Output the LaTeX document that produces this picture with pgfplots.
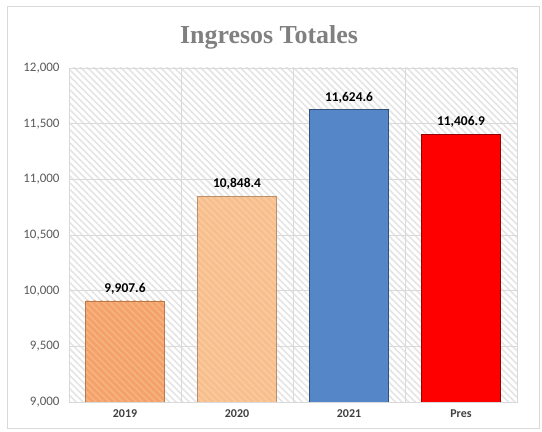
\documentclass[border=0pt]{standalone}
\usepackage{pgfplots}
\pgfplotsset{compat=1.18}
\usepackage{fontspec}
\setmainfont{Carlito}
\newfontfamily\titlefont{Liberation Serif}
\usetikzlibrary{patterns.meta}
\definecolor{framegray}{HTML}{D9D9D9}
\definecolor{gridgray}{HTML}{D9D9D9}
\definecolor{hatch}{HTML}{E4E4E4}
\definecolor{titlegray}{HTML}{808080}
\definecolor{ticktext}{HTML}{595959}
\definecolor{xtext}{HTML}{404040}
\definecolor{orA}{HTML}{F4A268}
\definecolor{orB}{HTML}{F8BF8C}
\definecolor{blueb}{HTML}{5586C8}
\definecolor{redb}{HTML}{FF0000}
\begin{document}
\begin{tikzpicture}
\path[use as bounding box] (-69bp,-30bp) rectangle (473bp,402bp);
\draw[framegray, line width=0.8bp] (-61.5bp,-26bp) rectangle (470.5bp,396bp);
\node[font=\titlefont\bfseries\fontsize{26}{26}\selectfont, text=titlegray] at (200bp,365bp) {Ingresos Totales};
\begin{axis}[
  at={(0,0)}, anchor=south west,
  width=448bp, height=334bp, scale only axis,
  xmin=-0.5, xmax=3.5, ymin=9000, ymax=12000,
  ytick={9000,9500,...,12000},
  scaled y ticks=false,
  yticklabel={\pgfmathprintnumber[fixed,precision=0,1000 sep={,},assume math mode=true]{\tick}},
  xtick={0,1,2,3}, xticklabels={2019,2020,2021,Pres},
  extra x ticks={0.5,1.5,2.5}, extra x tick labels={},
  extra x tick style={grid=major},
  ymajorgrids, major grid style={gridgray, line width=0.8bp},
  axis line style={gridgray, line width=0.8bp},
  major tick length=0pt,
  yticklabel style={font=\fontsize{13}{13}\selectfont, text=ticktext, xshift=-6bp},
  xticklabel style={font=\bfseries\fontsize{12}{12}\selectfont, text=xtext, yshift=-4bp},
  axis background/.style={pattern={Lines[angle=-45,distance=4.7bp,line width=1.6bp]}, pattern color=hatch},
  ybar, bar width=0.7,
  nodes near coords,
  nodes near coords style={font=\bfseries\fontsize{13.5}{13.5}\selectfont, text=black,
    /pgf/number format/fixed, /pgf/number format/fixed zerofill, /pgf/number format/precision=1,
    /pgf/number format/1000 sep={,}, /pgf/number format/assume math mode=true, yshift=3bp},
]
\addplot[bar shift=0pt, fill=orA, draw=orA!75!black, line width=0.8bp,
  postaction={pattern={Lines[angle=-45,distance=4.7bp,line width=1.6bp]}, pattern color=orA!82!white}]
  coordinates {(0,9907.6)};
\addplot[bar shift=0pt, fill=orB, draw=orB!75!black, line width=0.8bp,
  postaction={pattern={Lines[angle=-45,distance=4.7bp,line width=1.6bp]}, pattern color=orB!82!white}]
  coordinates {(1,10848.4)};
\addplot[bar shift=0pt, fill=blueb, draw=blueb!60!black, line width=0.8bp]
  coordinates {(2,11624.6)};
\addplot[bar shift=0pt, fill=redb, draw=redb!60!black, line width=0.8bp]
  coordinates {(3,11406.9)};
\end{axis}
\end{tikzpicture}
\end{document}
